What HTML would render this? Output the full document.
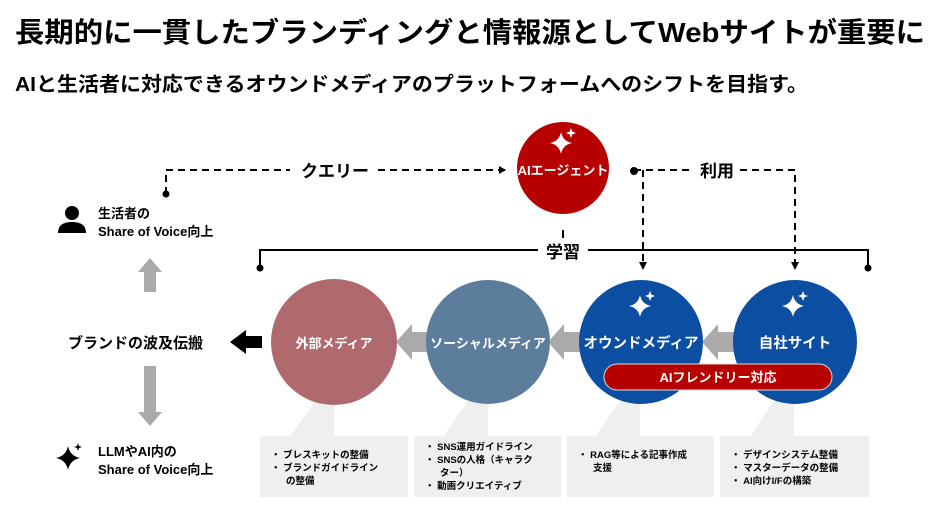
<!DOCTYPE html>
<html><head><meta charset="utf-8"><style>
body{margin:0;background:#fff;width:947px;height:515px;overflow:hidden}
svg text{font-family:"Liberation Sans","Noto Sans CJK JP",sans-serif;font-weight:bold}
</style></head><body>
<svg width="947" height="515" viewBox="0 0 947 515" xmlns="http://www.w3.org/2000/svg">
<defs>
<marker id="ah" markerWidth="8" markerHeight="8" refX="6" refY="4" orient="auto" markerUnits="userSpaceOnUse"><path d="M0,0L7,4L0,8z" fill="#000"/></marker>
<g id="spk"><path d="M0,-11 Q1.8,-1.8 11,0 Q1.8,1.8 0,11 Q-1.8,1.8 -11,0 Q-1.8,-1.8 0,-11z" fill="#fff"/><path d="M10,-15 L11.4,-11.4 15,-10 11.4,-8.6 10,-5 8.6,-8.6 5,-10 8.6,-11.4z" fill="#fff"/></g>
</defs>
<text x="15" y="42" font-size="28" fill="#000" textLength="910" lengthAdjust="spacingAndGlyphs">長期的に一貫したブランディングと情報源としてWebサイトが重要に</text>
<text x="15" y="91" font-size="20" fill="#000" textLength="793" lengthAdjust="spacingAndGlyphs">AIと生活者に対応できるオウンドメディアのプラットフォームへのシフトを目指す。</text>

<!-- query -->
<circle cx="166" cy="194" r="3.5" fill="#000"/>
<path d="M166,194V170H290" stroke="#000" stroke-width="2" stroke-dasharray="7,5" fill="none"/>
<text x="335" y="177" font-size="17" text-anchor="middle">クエリー</text>
<path d="M378,170H505" stroke="#000" stroke-width="2" stroke-dasharray="7,5" fill="none" marker-end="url(#ah)"/>

<!-- AI agent -->
<circle cx="563" cy="168" r="46" fill="#b70000"/>
<use href="#spk" x="561" y="143"/>
<text x="563" y="175" font-size="13" fill="#fff" text-anchor="middle">AIエージェント</text>
<line x1="563" y1="230" x2="563" y2="238" stroke="#000" stroke-width="2"/>

<!-- 利用 -->
<circle cx="634" cy="171" r="4" fill="#000"/>
<path d="M634,170H690M740,170H795V262" stroke="#000" stroke-width="2" stroke-dasharray="7,5" fill="none"/>
<path d="M643,170V262" stroke="#000" stroke-width="2" stroke-dasharray="7,5" fill="none"/>
<path d="M639,262L647,262L643,270z M791,262L799,262L795,270z" fill="#000"/>
<text x="717" y="177" font-size="17" text-anchor="middle">利用</text>

<!-- 学習 -->
<path d="M260,268V250H538M588,250H868V268" stroke="#000" stroke-width="2" fill="none"/>
<circle cx="260" cy="268" r="3.5" fill="#000"/><circle cx="868" cy="268" r="3.5" fill="#000"/>
<text x="563" y="258" font-size="17" text-anchor="middle">学習</text>

<!-- gray arrows between circles -->
<g fill="#aaa">
<path d="M428,332H412V324L396,342L412,360V352H428z"/>
<path d="M580,332H564V324L548,342L564,360V352H580z"/>
<path d="M734,332H718V324L702,342L718,360V352H734z"/>
</g>

<!-- callouts -->
<g>
<path d="M318,398L334,398L334,436L290,436z" fill="#efefef"/>
<path d="M470,398L488,398L488,436L444,436z" fill="#efefef"/>
<path d="M622,398L640,398L640,436L596,436z" fill="#efefef"/>
<path d="M776,398L794,398L794,436L750,436z" fill="#efefef"/>
</g>

<circle cx="334" cy="342" r="63" fill="#b06a6e"/>
<text x="334" y="348" font-size="13" fill="#fff" text-anchor="middle">外部メディア</text>
<circle cx="488" cy="342" r="62" fill="#5d7d9c"/>
<text x="488" y="348" font-size="13" fill="#fff" text-anchor="middle">ソーシャルメディア</text>
<circle cx="641" cy="342" r="62" fill="#0b4ea2"/>
<use href="#spk" x="640" y="306"/>
<text x="641" y="348" font-size="14.5" fill="#fff" text-anchor="middle">オウンドメディア</text>
<circle cx="795" cy="342" r="62" fill="#0b4ea2"/>
<use href="#spk" x="793" y="306"/>
<text x="795" y="348" font-size="14.5" fill="#fff" text-anchor="middle">自社サイト</text>

<rect x="604" y="364" width="228" height="26" rx="13" fill="#b70000" stroke="#ddd" stroke-width="1"/>
<text x="718" y="382" font-size="13" fill="#fff" text-anchor="middle">AIフレンドリー対応</text>

<!-- boxes -->
<g fill="#efefef">
<rect x="260" y="436" width="148" height="61"/>
<rect x="414" y="436" width="147" height="61"/>
<rect x="567" y="436" width="147" height="61"/>
<rect x="720" y="436" width="149" height="61"/>
</g>
<g font-size="9.5" fill="#000">
<text x="271" y="458">・ ブレスキットの整備</text>
<text x="271" y="471">・ ブランドガイドライン</text>
<text x="286" y="484">の整備</text>
<text x="425" y="450">・ SNS運用ガイドライン</text>
<text x="425" y="463">・ SNSの人格（キャラク</text>
<text x="440" y="476">ター）</text>
<text x="425" y="489">・ 動画クリエイティブ</text>
<text x="578" y="458">・ RAG等による記事作成</text>
<text x="593" y="471">支援</text>
<text x="731" y="458">・ デザインシステム整備</text>
<text x="731" y="471">・ マスターデータの整備</text>
<text x="731" y="484">・ AI向けI/Fの構築</text>
</g>

<!-- left side -->
<circle cx="72" cy="213" r="7" fill="#000"/>
<path d="M58,233Q58,222 72,222Q86,222 86,233z" fill="#000"/>
<text x="98" y="218" font-size="13">生活者の</text>
<text x="98" y="236" font-size="13">Share of Voice向上</text>
<path d="M150,258L162,272H156V292H144V272H138z" fill="#aaa"/>
<text x="68" y="348" font-size="15">ブランドの波及伝搬</text>
<path d="M262,336H246V330L230,342L246,354V348H262z" fill="#000"/>
<path d="M144,366H156V412H162L150,426L138,412H144z" fill="#aaa"/>
<path d="M68,446Q70,456 80,458Q70,460 68,470Q66,460 56,458Q66,456 68,446z" fill="#000"/>
<path d="M78,443L79,446 82,447 79,448 78,451 77,448 74,447 77,446z" fill="#000"/>
<text x="98" y="456" font-size="13">LLMやAI内の</text>
<text x="98" y="474" font-size="13">Share of Voice向上</text>
</svg>
</body></html>
